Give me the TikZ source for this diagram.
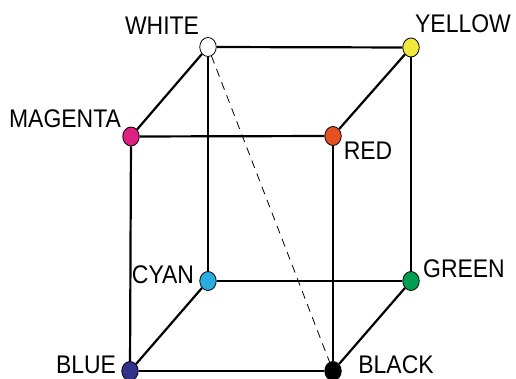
\documentclass[tikz,border=0pt]{standalone}
\usepackage{fontspec}
\setmainfont[FakeStretch=0.9]{Liberation Sans}
\usetikzlibrary{shapes.geometric}
\definecolor{cyellow}{RGB}{240,232,60}
\definecolor{cmagenta}{RGB}{222,32,128}
\definecolor{cred}{RGB}{230,80,30}
\definecolor{ccyan}{RGB}{40,172,226}
\definecolor{cgreen}{RGB}{0,158,80}
\definecolor{cblue}{RGB}{50,50,140}
\begin{document}
\begin{tikzpicture}[x=1pt,y=-1pt,
  dot/.style={ellipse,draw=black,line width=0.8pt,inner sep=0pt,minimum width=16.5pt,minimum height=19pt},
  lbl/.style={inner sep=0pt,font=\fontsize{25.5}{30}\selectfont},
  edge/.style={line width=2.2pt,black}]
\useasboundingbox (0,0) rectangle (516,379);
\node[dot,fill=white] (W) at (208,47) {};
\node[dot,fill=cyellow] (Y) at (411,47.5) {};
\node[dot,fill=cmagenta] (M) at (131,136.5) {};
\node[dot,fill=cred] (R) at (333,136) {};
\node[dot,fill=ccyan] (C) at (208,281) {};
\node[dot,fill=cgreen] (G) at (411,281) {};
\node[dot,fill=cblue] (B) at (130,371) {};
\node[dot,fill=black] (K) at (333,371) {};
\draw[edge] (W) -- (Y);
\draw[edge] (W) -- (M);
\draw[edge] (W) -- (C);
\draw[edge] (Y) -- (R);
\draw[edge] (Y) -- (G);
\draw[edge] (M) -- (R);
\draw[edge] (M) -- (B);
\draw[edge] (R) -- (K);
\draw[edge] (C) -- (G);
\draw[edge] (C) -- (B);
\draw[edge] (G) -- (K);
\draw[edge] (B) -- (K);
\draw[line width=0.8pt,dash pattern=on 8pt off 6pt] (W) -- (K);
\node[lbl] (tW) at (162,26) {WHITE};
\node[lbl] (tY) at (463,24) {YELLOW};
\node[lbl] (tM) at (65,119) {MAGENTA};
\node[lbl] (tR) at (368,151) {RED};
\node[lbl] (tC) at (163,275) {CYAN};
\node[lbl] (tG) at (464,269) {GREEN};
\node[lbl] (tB) at (86,365) {BLUE};
\node[lbl] (tK) at (396,365) {BLACK};
\end{tikzpicture}
\end{document}
